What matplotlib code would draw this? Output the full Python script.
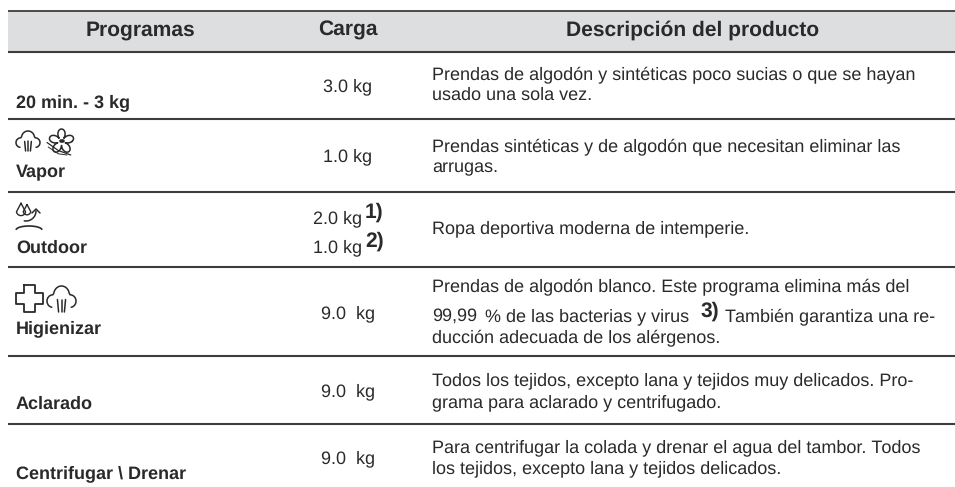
import numpy as np
import matplotlib
matplotlib.use("Agg")
import matplotlib.pyplot as plt
from matplotlib.patches import Rectangle

plt.rcParams['font.family'] = ['Liberation Sans', 'DejaVu Sans']
plt.rcParams['text.hinting'] = 'none'
plt.rcParams['text.hinting_factor'] = 1

headers = ["Programas", "Carga", "Descripción del producto"]
programs = ["20 min. - 3 kg", "Vapor", "Outdoor", "Higienizar", "Aclarado", "Centrifugar \\ Drenar"]
loads = ["3.0 kg", "1.0 kg", "2.0 kg", "1.0 kg", "9.0  kg", "9.0  kg", "9.0  kg"]
load_notes = ["", "", "1)", "2)", "", "", ""]
desc_row1 = ["Prendas de algodón y sintéticas poco sucias o que se hayan", "usado una sola vez."]
desc_row2 = ["Prendas sintéticas y de algodón que necesitan eliminar las", "arrugas."]
desc_row3 = ["Ropa deportiva moderna de intemperie."]
desc_row4 = ["Prendas de algodón blanco. Este programa elimina más del",
             "99,99", "% de las bacterias y virus", "También garantiza una re-",
             "ducción adecuada de los alérgenos."]
desc_row5 = ["Todos los tejidos, excepto lana y tejidos muy delicados. Pro-", "grama para aclarado y centrifugado."]
desc_row6 = ["Para centrifugar la colada y drenar el agua del tambor. Todos", "los tejidos, excepto lana y tejidos delicados."]

TXT = "#2a2a2a"
LINE = "#3d3d3d"

fig = plt.figure(figsize=(9.55, 4.87), dpi=100)
ax = fig.add_axes([0, 0, 1, 1])
ax.set_xlim(0, 955)
ax.set_ylim(487, 0)
ax.axis("off")


def fit(text, width, weight="normal"):
    """Font size at which `text` spans `width` pixels in the reference."""
    t = ax.text(0, 0, text, fontsize=20, fontweight=weight)
    w = t.get_window_extent(fig.canvas.get_renderer()).width
    t.remove()
    return 20 * width / w


BODY = fit(desc_row1[0], 500)
LOAD = fit(loads[0], 50)
BOLD = fit(programs[0], 117, "bold")
HEAD = fit(headers[2], 257, "bold")
NOTE = HEAD

# header band and rules
ax.add_patch(Rectangle((8, 11), 947, 40.5, fc="#dcdee0", ec="none", zorder=0))
for y, lw in [(11, 1.3), (51.5, 1.5), (119.3, 1.5), (191.7, 1.5), (267, 1.5), (356, 1.5), (424, 1.5)]:
    ax.plot([8, 955], [y, y], color=LINE, lw=lw, solid_capstyle="butt", zorder=1)

for x, h in zip([140, 348, 692.5], headers):
    ax.text(x, 36, h, ha="center", va="baseline", fontsize=HEAD, fontweight="bold", color=TXT)

for y, p in zip([107, 177, 253, 333, 409, 478], programs):
    ax.text(16, y, p, ha="left", va="baseline", fontsize=BOLD, fontweight="bold", color=TXT)

load_pos = [(348, 91), (348, 161), (338, 223), (338, 252), (348, 318), (348, 396), (348, 463)]
note_base = [0, 0, 218, 247, 0, 0, 0]
for (x, y), l, n, ny in zip(load_pos, loads, load_notes, note_base):
    ax.text(x, y, l, ha="center", va="baseline", fontsize=LOAD, color=TXT)
    if n:
        ax.text(365, ny, n, ha="left", va="baseline", fontsize=NOTE, fontweight="bold", color=TXT)

DX = 432
for y, t in zip([79, 100], desc_row1):
    ax.text(DX, y, t, va="baseline", fontsize=BODY, color=TXT)
for y, t in zip([151, 172], desc_row2):
    ax.text(DX, y, t, va="baseline", fontsize=BODY, color=TXT)
ax.text(DX, 233, desc_row3[0], va="baseline", fontsize=BODY, color=TXT)
ax.text(DX, 291, desc_row4[0], va="baseline", fontsize=BODY, color=TXT)
ax.text(DX, 321, desc_row4[1], va="baseline", fontsize=BODY, color=TXT)
ax.text(485, 321, desc_row4[2], va="baseline", fontsize=BODY, color=TXT)
ax.text(701, 317, "3)", va="baseline", fontsize=NOTE, fontweight="bold", color=TXT)
ax.text(725, 321, desc_row4[3], va="baseline", fontsize=BODY, color=TXT)
ax.text(DX, 342, desc_row4[4], va="baseline", fontsize=BODY, color=TXT)
for y, t in zip([385, 407], desc_row5):
    ax.text(DX, y, t, va="baseline", fontsize=BODY, color=TXT)
for y, t in zip([452, 473], desc_row6):
    ax.text(DX, y, t, va="baseline", fontsize=BODY, color=TXT)


# ---- pictograms (decoration drawn in pixel space) ----
def arc(cx, cy, rx, ry, a0, a1, n=30):
    t = np.radians(np.linspace(a0, a1, n))
    return cx + rx * np.cos(t), cy - ry * np.sin(t)


def stroke(xs, ys, lw=1.1):
    ax.plot(xs, ys, color="#2a2a2a", lw=lw, solid_capstyle="round", zorder=3)


def cloud(x, y, w, h):
    segs = [arc(.20, .58, .20, .24, 260, 90), arc(.50, .34, .27, .34, 170, 10),
            arc(.80, .58, .20, .24, 90, -80)]
    xs = np.concatenate([s[0] for s in segs])
    ys = np.concatenate([s[1] for s in segs])
    stroke(x + w * xs, y + h * ys)
    for a, b in [(.36, .40), (.50, .50), (.64, .60)]:
        stroke([x + w * a, x + w * b], [y + h * .52, y + h * 1.0])


def cross(x, y, s):
    u = np.array([.30, .70, .70, 1, 1, .70, .70, .30, .30, 0, 0, .30, .30])
    v = np.array([0, 0, .28, .28, .70, .70, 1, 1, .70, .70, .28, .28, 0])
    stroke(x + s * u, y + s * v, 1.3)


def flower(x, y, s):
    t = np.radians(np.linspace(0, 360, 181))
    r = .16 + .34 * np.abs(np.cos(2.5 * (t - np.pi / 2))) ** .8
    stroke(x + s * (.58 + r * np.cos(t)), y + s * (.46 - r * np.sin(t)))
    stroke([x + s * .55, x + s * .63], [y + s * .44, y + s * .44], 2.6)
    stroke([x, x + s * .45, x + s * .95], [y + s * .5, y + s * .82, y + s * 1.0], .9)
    stroke([x + s * .05, x + s * .45, x + s * .8], [y + s * .68, y + s * .95, y + s * 1.0], .7)


def drops(x, y):
    for cx, cy, r in [(x + 5, y + 10, 4.6), (x + 11, y + 10, 3.8)]:
        ex, ey = arc(cx, cy, r, r, 190, 350)
        stroke(np.r_[cx, ex, cx], np.r_[cy - r * 1.7, ey, cy - r * 1.7], 1)
    ex, ey = arc(x + 10, y + 10, 10, 10, -100, 0, 12)
    stroke(ex, ey)
    stroke([x + 16, x + 20, x + 24], [y + 12, y + 8, y + 12])
    ex, ey = arc(x + 13, y + 29, 13, 4, 170, 10, 20)
    stroke(ex, ey, 1.2)


cloud(16, 131, 24, 20)
flower(47, 130, 25)
drops(16, 201)
cross(16, 285, 27)
cloud(47, 286, 29, 26)

fig.savefig("out.png", dpi=100)
